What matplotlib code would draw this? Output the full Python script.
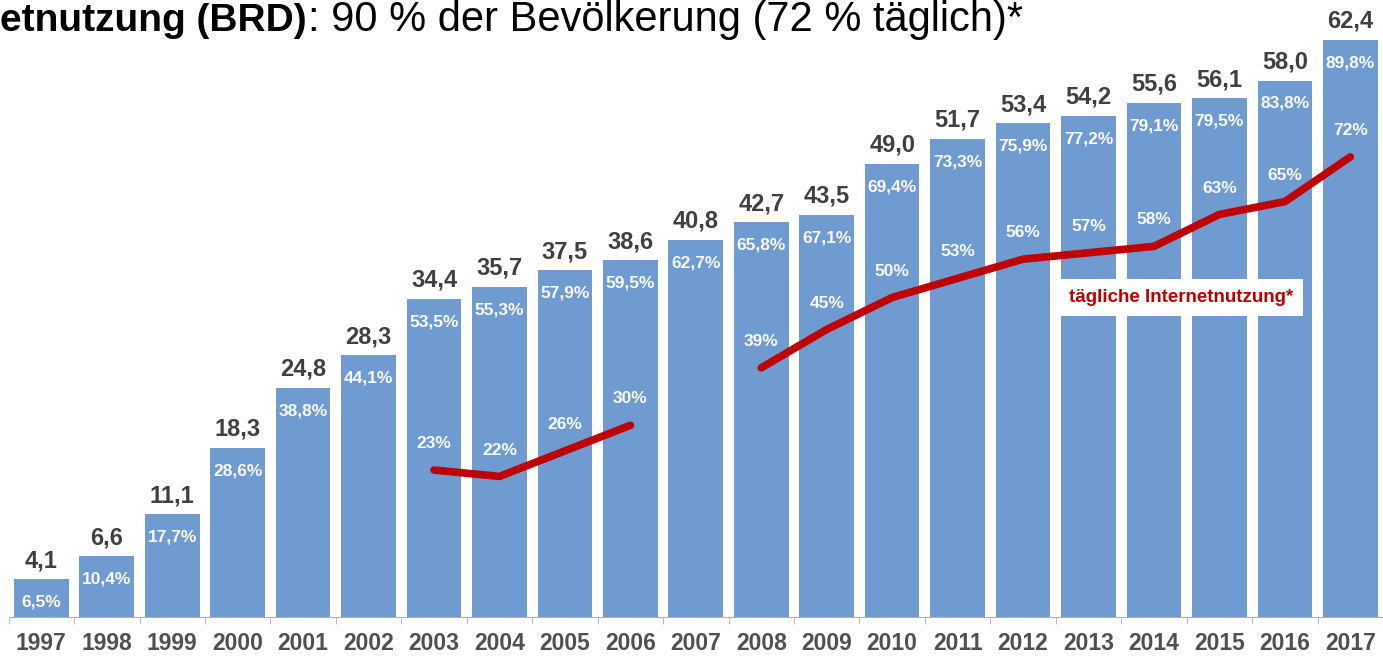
import numpy as np
import matplotlib
matplotlib.use('Agg')
import matplotlib.pyplot as plt

# Daten
jahre = ['1997', '1998', '1999', '2000', '2001', '2002', '2003', '2004', '2005', '2006', '2007',
         '2008', '2009', '2010', '2011', '2012', '2013', '2014', '2015', '2016', '2017']
nutzer_mio = [4.1, 6.6, 11.1, 18.3, 24.8, 28.3, 34.4, 35.7, 37.5, 38.6, 40.8,
              42.7, 43.5, 49.0, 51.7, 53.4, 54.2, 55.6, 56.1, 58.0, 62.4]
anteil = [6.5, 10.4, 17.7, 28.6, 38.8, 44.1, 53.5, 55.3, 57.9, 59.5, 62.7,
          65.8, 67.1, 69.4, 73.3, 75.9, 77.2, 79.1, 79.5, 83.8, 89.8]
# taegliche Nutzung (None = keine Angabe)
taeglich = [None, None, None, None, None, None, 23, 22, 26, 30, None,
            39, 45, 50, 53, 56, 57, 58, 63, 65, 72]

blau = '#6f9bd0'
rot = '#c00000'
grau = '#404040'
narrow = ['Liberation Sans Narrow', 'Liberation Sans', 'DejaVu Sans']

plt.rcParams['font.family'] = ['Liberation Sans', 'DejaVu Sans']

fig = plt.figure(figsize=(13.83, 6.56), dpi=100)
ax = fig.add_axes([0, 39 / 656, 1, 617 / 656])
x = np.arange(len(jahre))

ax.bar(x, nutzer_mio, width=0.835, color=blau, zorder=2)
ax.set_xlim(-0.632, 20.428)
ax.set_ylim(0, 617 / 9.25)

for xi, v, p in zip(x, nutzer_mio, anteil):
    ax.annotate(('%.1f' % v).replace('.', ','), (xi, v), xytext=(0, 5), textcoords='offset points',
                ha='center', va='bottom', fontsize=17, fontweight='bold', color=grau)
    ax.annotate(('%.1f%%' % p).replace('.', ','), (xi, v), xytext=(0, -16.5), textcoords='offset points',
                ha='center', va='center', fontsize=12.5, fontweight='bold', color='white',
                family=narrow, alpha=0.95)

# Achse
for s in ['top', 'left', 'right']:
    ax.spines[s].set_visible(False)
ax.spines['bottom'].set_color('#b0b0b0')
ax.spines['bottom'].set_bounds(-0.5, 20.5)
ax.set_yticks([])
ax.set_xticks(x)
ax.set_xticklabels(jahre, fontsize=16.5, fontweight='bold', color='#505050')
ax.tick_params(axis='x', which='major', length=0, pad=11)
ax.set_xticks(np.arange(-0.5, 21, 1), minor=True)
ax.tick_params(axis='x', which='minor', length=5, color='#b0b0b0', direction='out')

# taegliche Nutzung auf zweiter Achse
ax2 = ax.twinx()
ax2.set_ylim(0, 617 / 6.39)
ax2.axis('off')
y_t = np.array([np.nan if t is None else t for t in taeglich], dtype=float)
ax2.plot(x, y_t, color=rot, lw=5.5, solid_capstyle='round', solid_joinstyle='round', zorder=3)
for xi, t in zip(x, taeglich):
    if t is None:
        continue
    ax2.annotate('%d%%' % t, (xi, t), xytext=(0, 19), textcoords='offset points',
                 ha='center', va='center', fontsize=12.5, fontweight='bold', color='white',
                 family=narrow, alpha=0.95)

ax2.text(17.41, 50, 'tägliche Internetnutzung*', ha='center', va='center', fontsize=13.5,
         fontweight='bold', color=rot, family=narrow,
         bbox=dict(facecolor='white', edgecolor='none', boxstyle='square,pad=0.55'))

# Titel (links abgeschnitten wie im Original)
ytitel = 1 - 31 / 656
t1 = fig.text(0.0, ytitel, 'etnutzung (BRD)', fontsize=28, fontweight='bold',
              color='black', va='baseline', ha='left')
t2 = fig.text(0, ytitel, ': 90 % der Bevölkerung (72 % täglich)*', fontsize=30, color='black',
              va='baseline', ha='left')
fig.canvas.draw()
bb = t1.get_window_extent()
t2.set_position(((bb.x1 + 1) / fig.bbox.width, ytitel))

fig.savefig('out.png', dpi=100)
